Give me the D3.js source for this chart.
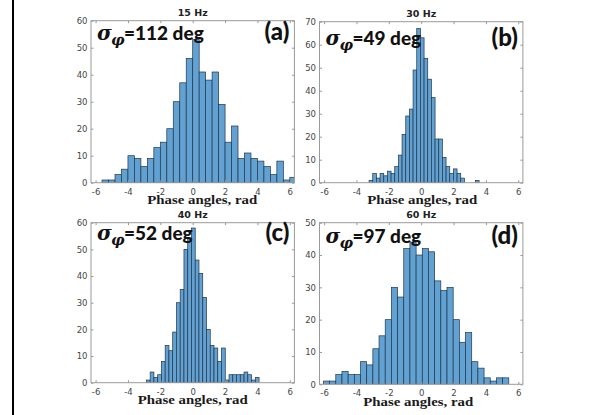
<!DOCTYPE html>
<html>
<head>
<meta charset="utf-8">
<script src="https://cdn.jsdelivr.net/npm/d3@7"></script>
<style>
  body { margin: 0; background: #fff; }
  svg { display: block; }
</style>
</head>
<body>
<svg width="597" height="415"></svg>
<script>
// chart values
var panelTitles = ["15 Hz", "30 Hz", "40 Hz", "60 Hz"];
var panelTags = ["(a)", "(b)", "(c)", "(d)"];
var sigmaDeg = [112, 49, 52, 97];
var yMax = [60, 70, 60, 50];
var binStart = [-5.6, -3.22, -2.86, -6.04];
var binWidth = [0.4, 0.2265, 0.232, 0.3817];
var counts15 = [1, 1, 3, 5, 10, 9, 6, 9, 13, 15, 20, 30, 37, 46, 53, 41, 38, 41, 29, 15, 21, 9, 11, 9, 8, 6, 3, 8, 1, 2];
var counts30 = [1, 4, 2, 4, 3, 5, 4, 7, 12, 21, 29, 32, 49, 67, 63, 54, 45, 37, 19, 19, 11, 7, 4, 6, 4, 2, 0, 0, 0, 1];
var counts40 = [1, 4, 2, 3, 8, 14, 12, 19, 30, 35, 50, 54, 58, 46, 41, 32, 20, 14, 13, 8, 13, 1, 3, 3, 3, 3, 4, 3, 1, 2];
var counts60 = [1, 1, 3, 4, 3, 3, 7, 6, 11, 15, 20, 30, 27, 42, 44, 40, 42, 41, 32, 29, 30, 20, 13, 16, 7, 5, 2, 1, 2, 2];
var xTicks = [-6, -4, -2, 0, 2, 4, 6];
var xLabel = "Phase angles, rad";
var allCounts = [counts15, counts30, counts40, counts60];

// panel boxes in page pixels
var plotWidth = 203.4;
var layout = [
    {left: 91, top: 20.7, bottom: 182.7, noteDy: 19.5, tagDy: 19.5, labelDx: 9.5},
    {left: 319.5, top: 21.7, bottom: 182.7, noteDy: 23.5, tagDy: 24, labelDx: 1},
    {left: 91, top: 222.7, bottom: 382.7, noteDy: 17.5, tagDy: 18, labelDx: 0},
    {left: 319.5, top: 222.7, bottom: 384.3, noteDy: 20.5, tagDy: 21, labelDx: -3}
];

var barFill = "#62a2d3";
var barStroke = "#22354a";
var boxColor = "#9a9a9a";
var tickLabelColor = "#454545";
var tickLen = 2.5;

var svg = d3.select("svg");

// black rule at the left edge of the page
svg.append("rect")
    .attr("x", 12).attr("y", 0)
    .attr("width", 2).attr("height", 415)
    .attr("fill", "#000");

function drawPanel(index) {
    var box = layout[index];
    var h = box.bottom - box.top;
    var counts = allCounts[index];

    var x = d3.scaleLinear().domain([-2 * Math.PI, 2 * Math.PI]).range([0, plotWidth]);
    var y = d3.scaleLinear().domain([0, yMax[index]]).range([h, 0]);

    var g = svg.append("g")
        .attr("transform", "translate(" + box.left + "," + box.top + ")");

    g.append("clipPath")
        .attr("id", "clip" + index)
        .append("rect")
        .attr("width", plotWidth)
        .attr("height", h);

    // histogram bars
    var bins = counts.map(function(c, i) {
        var x0 = binStart[index] + i * binWidth[index];
        return {x0: x0, x1: x0 + binWidth[index], count: c};
    }).filter(function(b) { return b.count > 0; });

    g.append("g")
        .attr("clip-path", "url(#clip" + index + ")")
        .selectAll("rect")
        .data(bins)
        .enter()
        .append("rect")
        .attr("x", function(b) { return x(b.x0); })
        .attr("y", function(b) { return y(b.count); })
        .attr("width", function(b) { return x(b.x1) - x(b.x0); })
        .attr("height", function(b) { return y(0) - y(b.count); })
        .attr("fill", barFill)
        .attr("stroke", barStroke)
        .attr("stroke-width", 0.7);

    // axes with inward ticks on all four sides (matlab box style)
    var yTickCount = yMax[index] / 10;
    var left = d3.axisLeft(y).ticks(yTickCount).tickSizeInner(-tickLen).tickSizeOuter(0)
        .tickPadding(3.5).tickFormat(function(d) { return String(d); });
    var right = d3.axisRight(y).ticks(yTickCount).tickSizeInner(-tickLen).tickSizeOuter(0)
        .tickFormat("");
    var bottom = d3.axisBottom(x).tickValues(xTicks).tickSizeInner(-tickLen).tickSizeOuter(0)
        .tickPadding(6).tickFormat(function(d) { return String(d); });
    var top = d3.axisTop(x).tickValues(xTicks).tickSizeInner(-tickLen).tickSizeOuter(0)
        .tickFormat("");

    var axes = [
        g.append("g").call(left),
        g.append("g").attr("transform", "translate(" + plotWidth + ",0)").call(right),
        g.append("g").attr("transform", "translate(0," + h + ")").call(bottom),
        g.append("g").call(top)
    ];
    axes.forEach(function(a) {
        a.select(".domain").remove();
        a.selectAll(".tick line").attr("stroke", boxColor);
        a.selectAll(".tick text")
            .attr("fill", tickLabelColor)
            .style("font-family", "'DejaVu Sans', sans-serif")
            .style("font-size", "8.5px");
    });

    g.append("rect")
        .attr("width", plotWidth)
        .attr("height", h)
        .attr("fill", "none")
        .attr("stroke", boxColor)
        .attr("stroke-width", 1);

    // title
    g.append("text")
        .attr("x", plotWidth / 2)
        .attr("y", -4.5)
        .attr("text-anchor", "middle")
        .style("font-family", "'DejaVu Sans', sans-serif")
        .style("font-weight", "bold")
        .style("font-size", "9.5px")
        .attr("fill", "#222")
        .text(panelTitles[index]);

    // sigma annotation
    g.append("text")
        .attr("x", 6)
        .attr("y", box.noteDy)
        .style("font-family", "'DejaVu Serif', serif")
        .style("font-style", "italic")
        .style("font-weight", "bold")
        .style("font-size", "20px")
        .attr("fill", "#111")
        .text("σ");
    g.append("text")
        .attr("x", 20)
        .attr("y", box.noteDy + 5)
        .style("font-family", "'DejaVu Serif', serif")
        .style("font-style", "italic")
        .style("font-weight", "bold")
        .style("font-size", "15px")
        .attr("fill", "#111")
        .text("φ");
    g.append("text")
        .attr("x", 33)
        .attr("y", box.noteDy)
        .style("font-family", "Lato, sans-serif")
        .style("font-weight", "900")
        .style("font-size", "19px")
        .attr("fill", "#111")
        .text("=" + sigmaDeg[index] + " deg");

    // panel tag
    g.append("text")
        .attr("x", plotWidth - 5)
        .attr("y", box.tagDy)
        .attr("text-anchor", "end")
        .style("font-family", "Lato, sans-serif")
        .style("font-weight", "900")
        .style("font-size", "24px")
        .attr("fill", "#111")
        .text(panelTags[index]);

    // x label
    g.append("text")
        .attr("x", plotWidth / 2 + box.labelDx - 55)
        .attr("y", h + 21.5)
        .attr("textLength", 110)
        .attr("lengthAdjust", "spacingAndGlyphs")
        .style("font-family", "'Liberation Serif', 'Times New Roman', serif")
        .style("font-weight", "bold")
        .style("font-size", "12.5px")
        .attr("fill", "#1a1a1a")
        .text(xLabel);
}

for (var i = 0; i < 4; i++) {
    drawPanel(i);
}
</script>
</body>
</html>
